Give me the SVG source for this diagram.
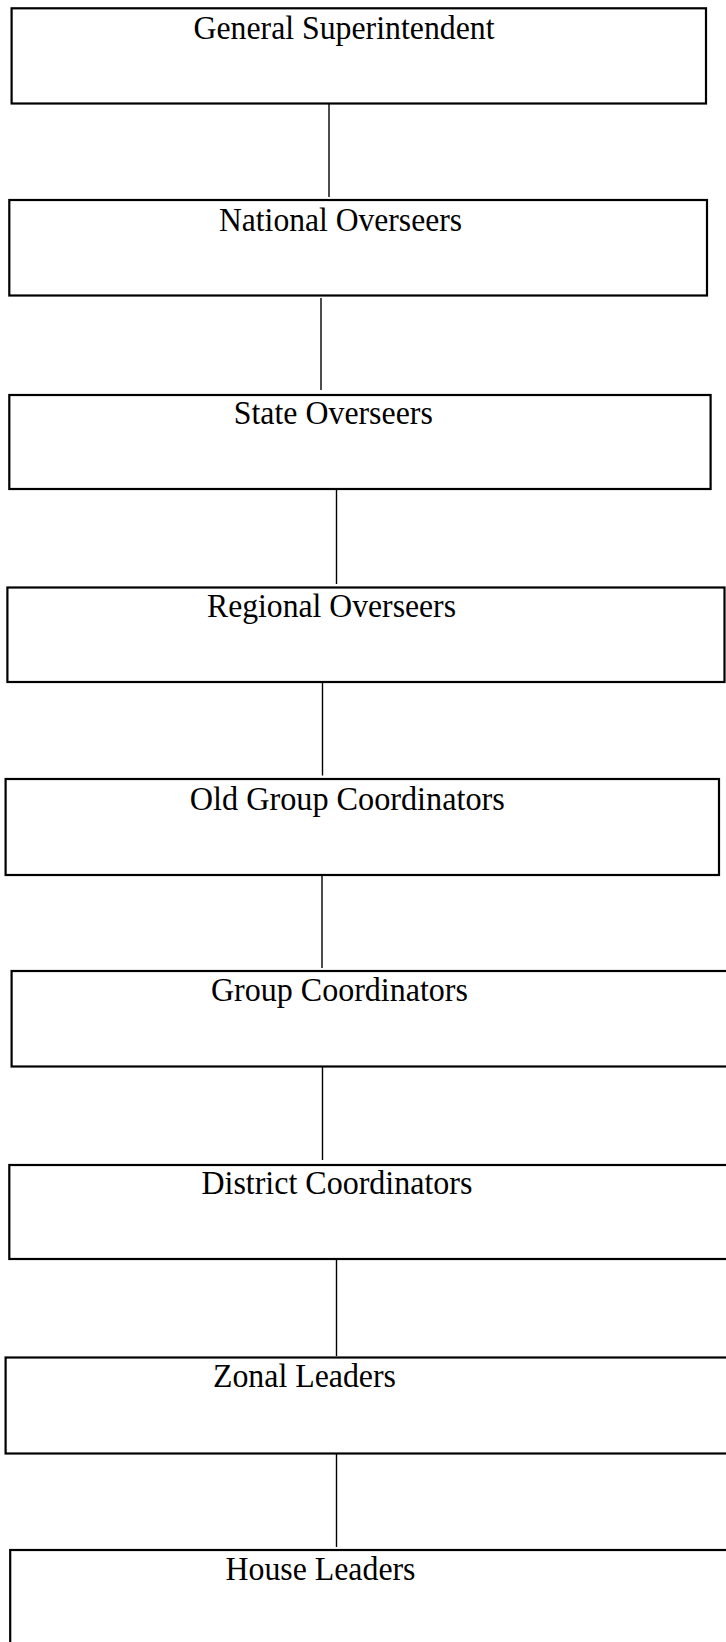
<svg xmlns="http://www.w3.org/2000/svg" width="726" height="1642" viewBox="0 0 726 1642">
<style>
.box{fill:#fff;stroke:#000;stroke-width:2.2}
.lbl{font-family:"Liberation Serif","Times New Roman",serif;font-size:33px;fill:#000}
.conn{stroke:#000;stroke-width:1.4;fill:none}
</style>
<rect width="726" height="1642" fill="#fff"/>
<g id="connectors">
<line class="conn" x1="329" y1="102" x2="329" y2="197"/>
<line class="conn" x1="321" y1="298" x2="321" y2="390"/>
<line class="conn" x1="336.5" y1="490" x2="336.5" y2="584"/>
<line class="conn" x1="322.5" y1="679" x2="322.5" y2="775.5"/>
<line class="conn" x1="322" y1="871.5" x2="322" y2="968"/>
<line class="conn" x1="322.5" y1="1064" x2="322.5" y2="1160"/>
<line class="conn" x1="336.5" y1="1260" x2="336.5" y2="1356"/>
<line class="conn" x1="336.5" y1="1452" x2="336.5" y2="1547"/>
</g>
<g id="n1"><rect class="box" x="11.6" y="8.3" width="694.4" height="95.2"/><text class="lbl" x="193.5" y="38.5" textLength="301" lengthAdjust="spacingAndGlyphs">General Superintendent</text></g>
<g id="n2"><rect class="box" x="9.3" y="200" width="697.7" height="95.5"/><text class="lbl" x="219" y="230.5" textLength="243" lengthAdjust="spacingAndGlyphs">National Overseers</text></g>
<g id="n3"><rect class="box" x="9.3" y="395" width="701.3" height="94"/><text class="lbl" x="233.8" y="424" textLength="199" lengthAdjust="spacingAndGlyphs">State Overseers</text></g>
<g id="n4"><rect class="box" x="7.4" y="587.5" width="717.1" height="94.5"/><text class="lbl" x="207" y="617" textLength="249" lengthAdjust="spacingAndGlyphs">Regional Overseers</text></g>
<g id="n5"><rect class="box" x="5.6" y="779" width="713.4" height="96"/><text class="lbl" x="189.8" y="810" textLength="315" lengthAdjust="spacingAndGlyphs">Old Group Coordinators</text></g>
<g id="n6"><rect class="box" x="11.6" y="971" width="720" height="95.5"/><text class="lbl" x="211" y="1001" textLength="257" lengthAdjust="spacingAndGlyphs">Group Coordinators</text></g>
<g id="n7"><rect class="box" x="9.3" y="1165" width="722" height="94"/><text class="lbl" x="201.4" y="1194" textLength="271" lengthAdjust="spacingAndGlyphs">District Coordinators</text></g>
<g id="n8"><rect class="box" x="5.6" y="1357.5" width="726" height="96"/><text class="lbl" x="213" y="1387" textLength="183" lengthAdjust="spacingAndGlyphs">Zonal Leaders</text></g>
<g id="n9"><rect class="box" x="10.2" y="1550" width="722" height="100"/><text class="lbl" x="225.5" y="1580" textLength="190" lengthAdjust="spacingAndGlyphs">House Leaders</text></g>
</svg>
